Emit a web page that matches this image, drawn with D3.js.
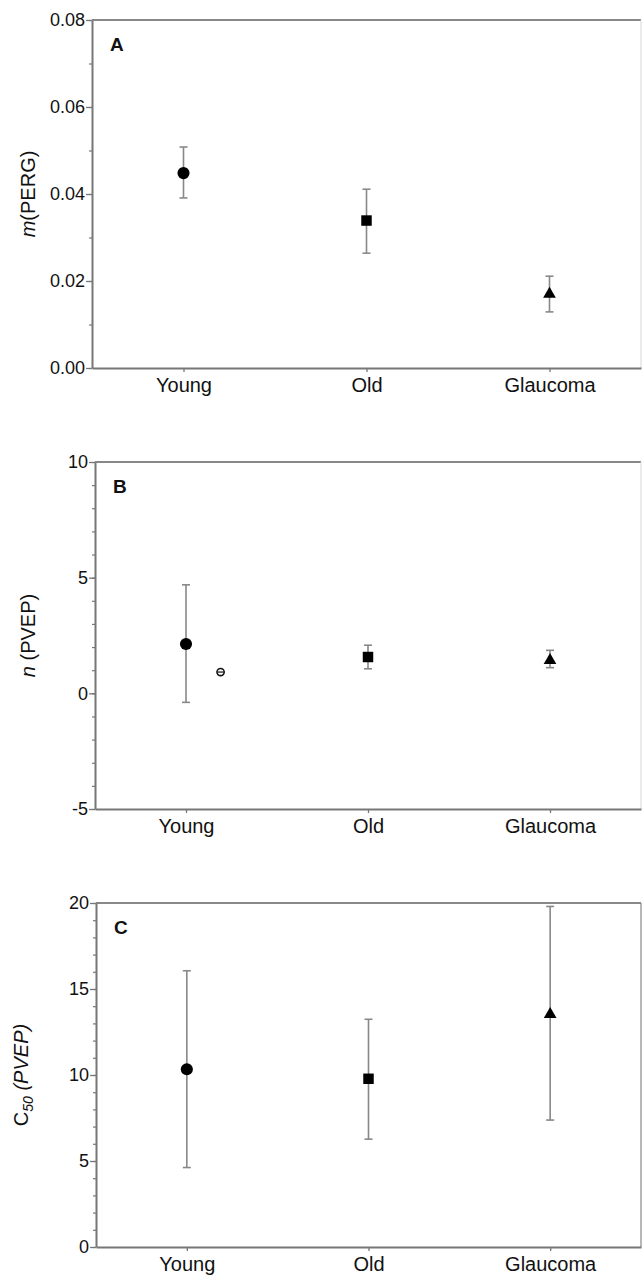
<!DOCTYPE html>
<html>
<head>
<meta charset="utf-8">
<script src="https://cdn.jsdelivr.net/npm/d3@7.9.0/dist/d3.min.js"></script>
<style>
  body { margin: 0; background: #fff; }
  svg { display: block; font-family: 'Liberation Sans', Arial, sans-serif; }
  .axis path, .axis line { stroke: #777; }
</style>
</head>
<body>
<svg id="chart" width="642" height="1277"></svg>
<script>
// groups on the x axis
const groups = ['Young', 'Old', 'Glaucoma'];

// panel A: m (PERG)
const pergMean = [0.0448, 0.0339, 0.0170];
const pergLow  = [0.0391, 0.0264, 0.0129];
const pergHigh = [0.0508, 0.0411, 0.0211];
const pergTicks = [0, 0.02, 0.04, 0.06, 0.08];

// panel B: n (PVEP)
const nMean = [2.13, 1.57, 1.43];
const nLow  = [-0.39, 1.06, 1.11];
const nHigh = [4.69, 2.08, 1.86];
const nTicks = [-5, 0, 5, 10];
const nYoungSingle = [0.92]; // lone open marker beside Young

// panel C: C50 (PVEP)
const c50Mean = [10.33, 9.78, 13.53];
const c50Low  = [4.62, 6.27, 7.38];
const c50High = [16.06, 13.24, 19.8];
const c50Ticks = [0, 5, 10, 15, 20];

const svg = d3.select('#chart');
const symbols = [d3.symbolCircle, d3.symbolSquare, d3.symbolTriangle];
const symbolSizes = [115, 110, 70];
const plainInt = d => String(d); // keeps the hyphen in "-5"

function drawPanel(opts) {
  const { left, right, top, bottom, letter, ticks, minorStep, fmt,
          mean, low, high, label, labelX, rightStroke } = opts;
  const g = svg.append('g');

  const x = d3.scalePoint().domain(groups).range([left, right]).padding(0.5);
  const y = d3.scaleLinear().domain(d3.extent(ticks)).range([bottom, top]);

  // frame top + right
  g.append('line')
    .attr('x1', left).attr('x2', right).attr('y1', top).attr('y2', top)
    .attr('stroke', '#888').attr('stroke-width', 1.8);
  g.append('line')
    .attr('x1', right).attr('x2', right).attr('y1', top).attr('y2', bottom)
    .attr('stroke', rightStroke).attr('stroke-width', 1.2);

  // minor ticks
  const minor = d3.range(ticks[0], ticks[ticks.length - 1] + minorStep / 2, minorStep);
  g.append('g')
    .attr('class', 'axis')
    .attr('transform', `translate(${left},0)`)
    .call(d3.axisLeft(y).tickValues(minor).tickSize(3).tickFormat(''))
    .call(s => s.select('.domain').remove())
    .selectAll('line').attr('stroke-width', 1.2);

  // y axis
  const ya = g.append('g')
    .attr('class', 'axis')
    .attr('transform', `translate(${left},0)`)
    .call(d3.axisLeft(y).tickValues(ticks).tickFormat(fmt).tickSize(6).tickSizeOuter(0).tickPadding(1));
  ya.select('.domain').attr('stroke-width', 2);
  ya.selectAll('line').attr('stroke-width', 1.3);
  ya.selectAll('text').attr('font-size', 18).attr('fill', '#111');

  // x axis
  const xa = g.append('g')
    .attr('class', 'axis')
    .attr('transform', `translate(0,${bottom})`)
    .call(d3.axisBottom(x).tickSize(4).tickSizeOuter(0).tickPadding(6));
  xa.select('.domain').attr('stroke-width', 2);
  xa.selectAll('line').attr('stroke-width', 1.3);
  xa.selectAll('text').attr('font-size', 20).attr('fill', '#111');

  // panel letter
  g.append('text')
    .attr('x', left + 18)
    .attr('y', top + 31)
    .attr('font-size', 19)
    .attr('font-weight', 'bold')
    .attr('fill', '#111')
    .text(letter);

  // error bars
  const rows = groups.map((grp, i) => ({ grp, i, mean: mean[i], low: low[i], high: high[i] }));
  const bars = g.append('g').attr('stroke', '#888').attr('stroke-width', 1.6);
  bars.selectAll('line.v').data(rows).join('line')
    .attr('x1', d => x(d.grp)).attr('x2', d => x(d.grp))
    .attr('y1', d => y(d.low)).attr('y2', d => y(d.high));
  bars.selectAll('line.lo').data(rows).join('line')
    .attr('x1', d => x(d.grp) - 4).attr('x2', d => x(d.grp) + 4)
    .attr('y1', d => y(d.low)).attr('y2', d => y(d.low));
  bars.selectAll('line.hi').data(rows).join('line')
    .attr('x1', d => x(d.grp) - 4).attr('x2', d => x(d.grp) + 4)
    .attr('y1', d => y(d.high)).attr('y2', d => y(d.high));

  // markers
  g.append('g').selectAll('path').data(rows).join('path')
    .attr('transform', d => `translate(${x(d.grp)},${y(d.mean)})`)
    .attr('d', d => d3.symbol(symbols[d.i], symbolSizes[d.i])())
    .attr('fill', '#000');

  // y label
  const t = g.append('text')
    .attr('transform', `translate(${labelX},${(top + bottom) / 2}) rotate(-90)`)
    .attr('text-anchor', 'middle')
    .attr('font-size', 20)
    .attr('fill', '#111');
  label(t);

  return { x, y, g };
}

drawPanel({
  left: 92, right: 641, top: 20, bottom: 368, letter: 'A',
  ticks: pergTicks, minorStep: 0.01, fmt: d3.format('.2f'),
  mean: pergMean, low: pergLow, high: pergHigh, labelX: 35, rightStroke: '#ddd',
  label: t => {
    t.append('tspan').attr('font-style', 'italic').text('m');
    t.append('tspan').text('(PERG)');
  }
});

const pb = drawPanel({
  left: 95, right: 641, top: 462, bottom: 809, letter: 'B',
  ticks: nTicks, minorStep: 1, fmt: plainInt,
  mean: nMean, low: nLow, high: nHigh, labelX: 35, rightStroke: '#ddd',
  label: t => {
    t.append('tspan').attr('font-style', 'italic').text('n');
    t.append('tspan').text(' (PVEP)');
  }
});

// single open marker to the right of Young in panel B
const shift = pb.x.step() * 0.19;
const single = pb.g.append('g').selectAll('g').data(nYoungSingle).join('g')
  .attr('transform', d => `translate(${pb.x('Young') + shift},${pb.y(d)})`);
single.append('circle').attr('r', 3.6).attr('fill', '#fff').attr('stroke', '#111').attr('stroke-width', 1.6);
single.append('line').attr('x1', -3).attr('x2', 3).attr('stroke', '#111').attr('stroke-width', 1.2);

drawPanel({
  left: 96, right: 641, top: 903, bottom: 1247, letter: 'C',
  ticks: c50Ticks, minorStep: 1, fmt: plainInt,
  mean: c50Mean, low: c50Low, high: c50High, labelX: 28, rightStroke: '#888',
  label: t => {
    t.append('tspan').text('C');
    t.append('tspan').attr('font-style', 'italic').attr('font-size', 14).attr('dy', 5).text('50');
    t.append('tspan').attr('font-style', 'italic').attr('dy', -5).text(' (PVEP)');
  }
});
</script>
</body>
</html>
